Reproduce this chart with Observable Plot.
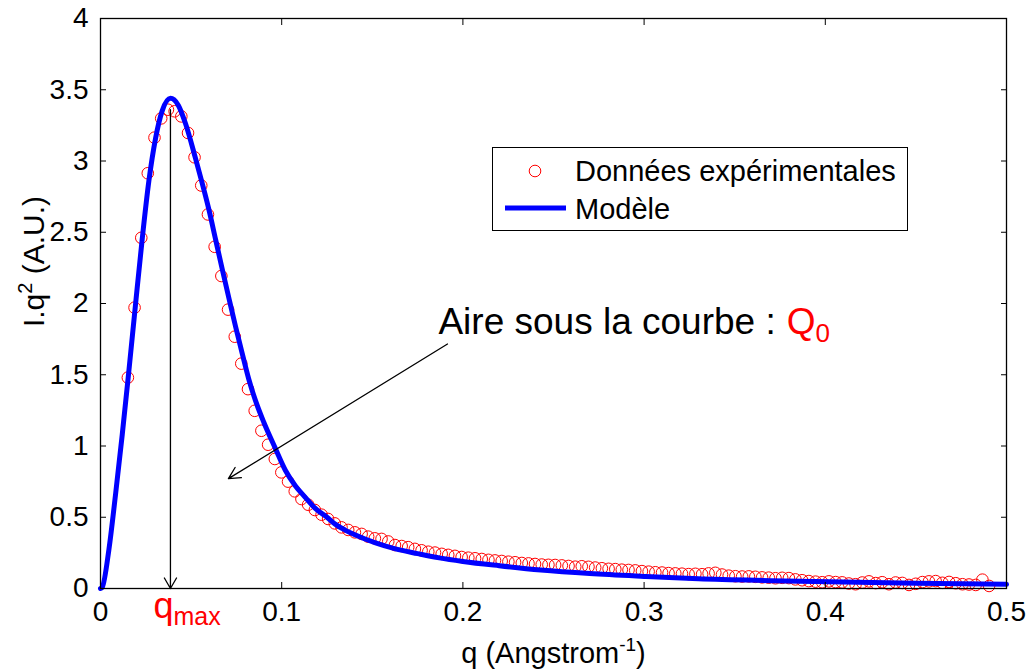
<!DOCTYPE html>
<html><head><meta charset="utf-8">
<script src="https://cdn.jsdelivr.net/npm/d3@7"></script>
<script src="https://cdn.jsdelivr.net/npm/@observablehq/plot@0.6"></script>
<style>
body{margin:0;background:#fff;}
#wrap{position:relative;width:1029px;height:671px;font-family:"Liberation Sans",Arial,sans-serif;}
#legend{position:absolute;left:492px;top:147px;}
</style></head><body><div id="wrap"></div>
<script>
// Experimental data (q in 1/Angstrom, I.q^2 in A.U.)
const qExp = [0.0151,0.0188,0.0225,0.0261,0.0298,0.0335,0.0372,0.0409,0.0446,0.0483,
0.0519,0.0556,0.0593,0.0630,0.0667,0.0704,0.0741,0.0777,0.0814,0.0851,
0.0888,0.0925,0.0962,0.0998,0.1035,0.1072,0.1109,0.1146,0.1183,0.1220,
0.1256,0.1293,0.1330,0.1367,0.1404,0.1441,0.1477,0.1514,0.1551,0.1588,
0.1625,0.1662,0.1698,0.1735,0.1772,0.1809,0.1846,0.1883,0.1919,0.1956,
0.1993,0.2030,0.2067,0.2104,0.2141,0.2177,0.2214,0.2251,0.2288,0.2325,
0.2362,0.2398,0.2435,0.2472,0.2509,0.2546,0.2583,0.2620,0.2656,0.2693,
0.2730,0.2767,0.2804,0.2841,0.2877,0.2914,0.2951,0.2988,0.3025,0.3062,
0.3099,0.3135,0.3172,0.3209,0.3246,0.3283,0.3320,0.3356,0.3393,0.3430,
0.3467,0.3504,0.3541,0.3578,0.3614,0.3651,0.3688,0.3725,0.3762,0.3799,
0.3835,0.3872,0.3909,0.3946,0.3983,0.4020,0.4057,0.4093,0.4130,0.4167,
0.4204,0.4241,0.4278,0.4314,0.4351,0.4388,0.4425,0.4462,0.4499,0.4536,
0.4572,0.4609,0.4646,0.4683,0.4720,0.4757,0.4793,0.4830,0.4867,0.4904];
const iExp = [1.480,1.971,2.461,2.914,3.164,3.299,3.360,3.349,3.313,3.197,
3.026,2.828,2.625,2.398,2.193,1.957,1.767,1.578,1.399,1.247,
1.107,1.009,0.909,0.815,0.750,0.682,0.628,0.588,0.551,0.518,
0.488,0.457,0.429,0.411,0.394,0.383,0.364,0.352,0.348,0.330,
0.305,0.298,0.290,0.278,0.268,0.258,0.252,0.243,0.236,0.229,
0.221,0.216,0.212,0.207,0.201,0.197,0.193,0.188,0.184,0.179,
0.176,0.172,0.168,0.166,0.165,0.162,0.158,0.153,0.156,0.152,
0.147,0.142,0.138,0.136,0.132,0.130,0.127,0.122,0.118,0.114,
0.112,0.108,0.106,0.104,0.101,0.103,0.100,0.106,0.110,0.098,
0.090,0.086,0.084,0.085,0.082,0.078,0.076,0.072,0.075,0.073,
0.064,0.058,0.052,0.048,0.044,0.050,0.045,0.043,0.035,0.030,
0.042,0.050,0.038,0.044,0.030,0.042,0.039,0.025,0.033,0.045,
0.050,0.052,0.040,0.046,0.037,0.030,0.028,0.025,0.062,0.018];
// Model curve
const qModel = [0,0.0010,0.0046,0.0083,0.0120,0.0156,0.0193,0.0230,0.0267,0.0304,0.0340,0.0386,0.0430,0.0470,0.0524,0.0560,0.0598,0.0635,0.0672,0.0710,0.0745,0.0782,0.0818,0.0855,0.0900,0.0966,0.1020,0.1076,0.1130,0.1187,0.1250,0.1297,0.1350,0.1407,0.1518,0.1628,0.1750,0.1870,0.2000,0.2200,0.2430,0.2700,0.3000,0.3300,0.3700,0.4100,0.4500,0.5000];
const iModel = [0,0.01,0.27,0.66,1.08,1.52,1.99,2.45,2.86,3.16,3.35,3.44,3.39,3.26,3.02,2.85,2.66,2.45,2.24,2.03,1.84,1.65,1.47,1.32,1.17,0.98,0.83,0.72,0.64,0.56,0.50,0.45,0.41,0.375,0.32,0.278,0.245,0.215,0.19,0.16,0.13,0.105,0.085,0.068,0.055,0.045,0.037,0.029];

const xTicks = [0,0.1,0.2,0.3,0.4,0.5];
const yTicks = [0,0.5,1,1.5,2,2.5,3,3.5,4];
const seriesNames = ["Données expérimentales","Modèle"];
const xLabelParts = [{t:"q (Angstrom"},{t:"-1",kind:"sup"},{t:")"}];
const yLabelParts = [{t:"I.q"},{t:"2",kind:"sup"},{t:" (A.U.)"}];
const qmaxParts = [{t:"q",fill:"#ff0000"},{t:"max",kind:"sub",fill:"#ff0000"}];
const areaParts = [{t:"Aire sous la courbe :"},{t:"Q",fill:"#ff0000",gap:true},{t:"0",kind:"sub",fill:"#ff0000"}];
// annotation anchors in data units
const areaLabel = [{q:0.1865, v:1.786}];
const areaArrow = [{q1:0.1915, v1:1.716, q2:0.0706, v2:0.771}];

const data = qExp.map((q,i)=>({q, v:iExp[i]}));
const model = qModel.map((q,i)=>({q, v:iModel[i]}));
const peak = d3.greatest(model, d=>d.v);
const topExp = d3.max(data, d=>d.v);
const joined = p => p.map(d=>d.t).join("");

const FONT = '"Liberation Sans", Arial, sans-serif';
const svg = Plot.plot({
  width:1029, height:671, marginLeft:100, marginRight:23, marginTop:18, marginBottom:83,
  style:{fontFamily:FONT, fontSize:"28px", background:"white", color:"black"},
  x:{domain:[0,0.5]}, y:{domain:[0,4]},
  marks:[
    Plot.dot(data,{x:"q",y:"v",r:5.8,stroke:"#ff0000",strokeWidth:1,fill:"none"}),
    Plot.line(model,{x:"q",y:"v",stroke:"#0000ff",strokeWidth:5,curve:"monotone-x"}),
    Plot.arrow([peak],{x1:"q",y1:()=>topExp,x2:"q",y2:()=>0,stroke:"black",strokeWidth:1.3,headLength:14,headAngle:60}),
    Plot.arrow(areaArrow,{x1:"q1",y1:"v1",x2:"q2",y2:"v2",stroke:"black",strokeWidth:1.3,headLength:15,headAngle:55}),
    Plot.frame({stroke:"black",strokeWidth:1.3}),
    Plot.axisX({ticks:xTicks,tickSize:-6,tickPadding:19,tickFormat:d=>String(d),fontSize:28,label:null}),
    Plot.axisX({anchor:"top",ticks:xTicks,tickSize:-6,tickFormat:()=>"",label:null}),
    Plot.axisY({ticks:yTicks,tickSize:-6,tickPadding:18,tickFormat:d=>String(d),fontSize:28,label:null}),
    Plot.axisY({anchor:"right",ticks:yTicks,tickSize:-6,tickFormat:()=>"",label:null}),
    Plot.text([joined(xLabelParts)],{frameAnchor:"bottom",textAnchor:"middle",dy:74,lineAnchor:"bottom",fontSize:29}),
    Plot.text([joined(yLabelParts)],{frameAnchor:"left",textAnchor:"middle",rotate:-90,dx:-66,dy:-42,lineAnchor:"middle",fontSize:30}),
    Plot.text([peak],{x:"q",y:()=>0,text:()=>joined(qmaxParts),textAnchor:"start",lineAnchor:"bottom",dx:-17,dy:29,fontSize:36,fill:"#ff0000"}),
    Plot.text(areaLabel,{x:"q",y:"v",text:()=>joined(areaParts),textAnchor:"start",lineAnchor:"bottom",fontSize:37})
  ]
});

function rich(parts, base, subSize) {
  const target = joined(parts);
  d3.select(svg).selectAll("text").each(function(){
    if (this.textContent !== target) return;
    const t = d3.select(this); t.text(null);
    let shift = 0;
    for (const p of parts) {
      const s = t.append("tspan").text(p.t);
      const want = p.kind === "sup" ? -0.4*base : p.kind === "sub" ? 0.22*base : 0;
      if (want !== shift) { s.attr("dy", want - shift); shift = want; }
      if (p.gap) s.attr("dx", 0.3*base);
      if (p.kind) s.attr("font-size", subSize);
      if (p.fill) s.attr("fill", p.fill);
    }
  });
}
rich(xLabelParts, 29, 19);
rich(yLabelParts, 30, 20);
rich(qmaxParts, 36, 25);
rich(areaParts, 37, 26);

const wrap = document.getElementById("wrap");
wrap.appendChild(svg);

// legend overlay
const lg = d3.select(wrap).append("svg").attr("id","legend").attr("width",416).attr("height",84)
  .style("font-family",FONT);
lg.append("rect").attr("x",0.5).attr("y",0.5).attr("width",415).attr("height",83).attr("fill","white").attr("stroke","black").attr("stroke-width",1);
lg.append("circle").attr("cx",43).attr("cy",24).attr("r",5.8).attr("fill","none").attr("stroke","#ff0000").attr("stroke-width",1);
lg.append("line").attr("x1",13).attr("x2",74).attr("y1",61).attr("y2",61).attr("stroke","#0000ff").attr("stroke-width",5);
lg.append("text").attr("x",83).attr("y",34).attr("font-size",29).text(seriesNames[0]);
lg.append("text").attr("x",83).attr("y",72).attr("font-size",29).text(seriesNames[1]);
</script></body></html>
